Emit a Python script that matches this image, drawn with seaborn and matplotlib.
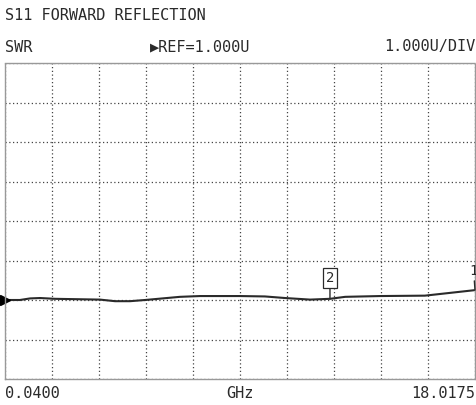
import matplotlib
matplotlib.use("Agg")
import matplotlib.pyplot as plt
import seaborn as sns
import pandas as pd

# S11 SWR trace
freq_ghz = [0.04, 0.61, 1.00, 1.38, 1.95, 3.67, 4.25, 4.82, 5.40, 6.73, 7.50,
            9.03, 9.98, 10.75, 11.71, 12.47, 13.05, 14.38, 16.10, 17.06, 18.0175]
swr = [1.00, 1.00, 1.04, 1.05, 1.03, 1.01, 0.97, 0.97, 1.00, 1.08, 1.10,
       1.10, 1.09, 1.05, 1.01, 1.03, 1.08, 1.10, 1.11, 1.18, 1.25]

marker_freqs = [18.0175, 12.47]
marker_labels = ["1", "2"]
ref_value = 1.0
y_min, y_max = -1.0, 7.0
f_start, f_stop = 0.04, 18.0175

sns.set_style("white")
plt.rcParams['font.family'] = ['DejaVu Sans Mono', 'DejaVu Sans']
ink = "#2a2a2a"

fig = plt.figure(figsize=(4.77, 4.05), dpi=100)
ax = fig.add_axes([5 / 477, 26 / 405, 470 / 477, 316 / 405])

df = pd.DataFrame({"freq": freq_ghz, "swr": swr})
sns.lineplot(data=df, x="freq", y="swr", ax=ax, color=ink, linewidth=1.5)

ax.set_xlim(f_start, f_stop)
ax.set_ylim(y_min, y_max)
step = (f_stop - f_start) / 10
ax.set_xticks([f_start + i * step for i in range(11)])
ax.set_yticks([y_min + i for i in range(9)])
ax.grid(True, linestyle=(0, (1, 2)), color="#444444", linewidth=0.9)
ax.tick_params(labelbottom=False, labelleft=False, length=0)
ax.set_xlabel("")
ax.set_ylabel("")
for s in ax.spines.values():
    s.set_linestyle((0, (2, 1)))
    s.set_color("#999999")
    s.set_linewidth(1.0)

# reference arrow at left edge
ax.plot([f_start], [ref_value], marker=">", color="black", markersize=7,
        clip_on=False)

# markers
for f, lab in zip(marker_freqs, marker_labels):
    v = swr[freq_ghz.index(f)]
    if lab == "2":
        ax.annotate(lab, xy=(f, v), xytext=(0, 10), textcoords="offset points",
                    ha="center", va="bottom", fontsize=10, color=ink,
                    bbox=dict(boxstyle="square,pad=0.2", fc="white", ec=ink, lw=0.9),
                    arrowprops=dict(arrowstyle="-", color=ink, lw=1.0, shrinkA=0, shrinkB=0))
    else:
        ax.annotate(lab, xy=(f, v), xytext=(-1, 9), textcoords="offset points",
                    ha="center", va="bottom", fontsize=10, color=ink, annotation_clip=False,
                    arrowprops=dict(arrowstyle="-", color=ink, lw=1.0, shrinkA=0, shrinkB=0))

fs = 11
fig.text(5 / 477, 1 - 15 / 405, "S11 FORWARD REFLECTION", ha="left", va="center",
         fontsize=fs, color=ink)
fig.text(5 / 477, 1 - 47 / 405, "SWR", ha="left", va="center", fontsize=fs, color=ink)
fig.text(150 / 477, 1 - 47 / 405, "\u25b6REF=1.000U", ha="left", va="center",
         fontsize=fs, color=ink)
fig.text(475 / 477, 1 - 47 / 405, "1.000U/DIV", ha="right", va="center",
         fontsize=fs, color=ink)
fig.text(5 / 477, 1 - 393 / 405, "0.0400", ha="left", va="center", fontsize=fs, color=ink)
fig.text(240 / 477, 1 - 393 / 405, "GHz", ha="center", va="center", fontsize=fs, color=ink)
fig.text(475 / 477, 1 - 393 / 405, "18.0175", ha="right", va="center", fontsize=fs, color=ink)

fig.savefig("out.png", dpi=100)
plt.close(fig)
